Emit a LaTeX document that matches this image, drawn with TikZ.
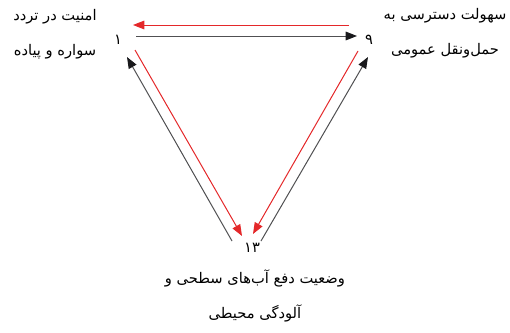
\documentclass[tikz,border=0pt]{standalone}
\usepackage{fontspec}
\newfontfamily\arabicfont[Script=Arabic]{DejaVu Sans}
\TeXXeTstate=1
\usetikzlibrary{arrows.meta}
\definecolor{cRed}{RGB}{228,40,42}
\definecolor{cDark}{RGB}{80,80,82}
\definecolor{cTip}{RGB}{25,25,28}

\begin{document}
\begin{tikzpicture}[
  x=0.75pt,y=-0.75pt, font=\arabicfont\fontsize{11}{26}\selectfont,
  fwd/.style ={-{Triangle[length=8.5pt,width=6.5pt,color=cTip]}, line width=0.75pt, draw=cDark},
  back/.style={-{Triangle[length=8.5pt,width=6.5pt,color=cRed]}, line width=0.75pt, draw=cRed},
  lbl/.style ={align=center, inner sep=0pt},
]
\useasboundingbox (0,0) rectangle (510,332);

% ----- corners ------------------------------------------------------------
\node[lbl] (n1)  at (118,40)  {\beginR ۱\endR};
\node[lbl] (n9)  at (369,40)  {\beginR ۹\endR};
\node[lbl] (n13) at (252,248) {\beginR ۱۳\endR};

% ----- labels --------------------------------------------------------------
\node[lbl] (safety) at (55,34)
      {\beginR امنیت در تردد\endR\\ \beginR سواره و پیاده\endR};
\node[lbl] (access) at (445,33)
      {\beginR سهولت دسترسی به\endR\\ \beginR حمل‌ونقل عمومی\endR};
\node[lbl] (water) at (255,296)
      {\beginR وضعیت دفع آب‌های سطحی و\endR\\ \beginR آلودگی محیطی\endR};

% ----- arrow ends ----------------------------------------------------------
\coordinate (r1a) at (349,25);  \coordinate (r1b) at (133,25);
\coordinate (k1a) at (136,36);  \coordinate (k1b) at (357,36);
\coordinate (r2a) at (135,50);  \coordinate (r2b) at (242,236);
\coordinate (k2a) at (232,241); \coordinate (k2b) at (127,57);
\coordinate (r3a) at (358,51);  \coordinate (r3b) at (253,234);
\coordinate (k3a) at (261,241); \coordinate (k3b) at (368,57);

% ----- arrows --------------------------------------------------------------
\draw[back] (r1a) -- (r1b);
\draw[fwd]  (k1a) -- (k1b);
\draw[back] (r2a) -- (r2b);
\draw[fwd]  (k2a) -- (k2b);
\draw[back] (r3a) -- (r3b);
\draw[fwd]  (k3a) -- (k3b);

\end{tikzpicture}
\end{document}
